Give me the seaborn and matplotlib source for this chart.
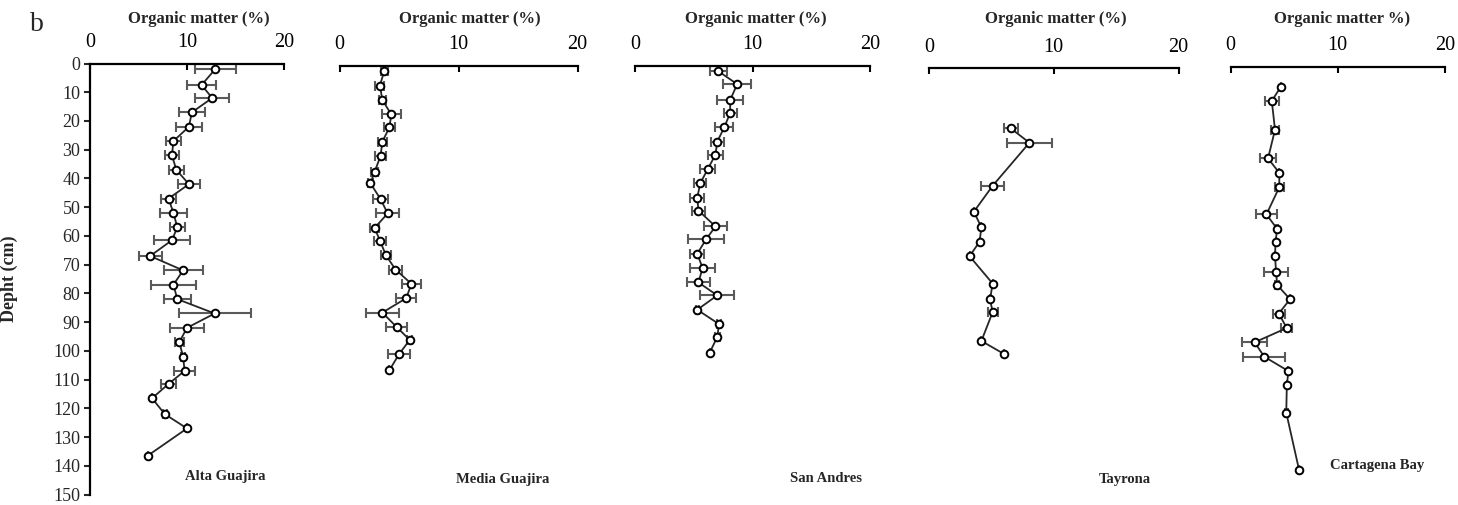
import numpy as np
import pandas as pd
import matplotlib
matplotlib.use("Agg")
import matplotlib.pyplot as plt
import seaborn as sns

# Alta Guajira
depth_ag = [2, 7.5, 12, 17, 22, 27, 32, 37, 42, 47, 52, 57, 61.5, 67, 72, 77, 82, 87, 92, 97, 102, 107, 111.5, 116.5, 122, 127, 136.5]
om_ag = [12.9, 11.5, 12.6, 10.5, 10.2, 8.6, 8.45, 8.9, 10.2, 8.1, 8.6, 9.0, 8.45, 6.2, 9.6, 8.6, 9.0, 12.85, 10.0, 9.2, 9.6, 9.75, 8.1, 6.4, 7.7, 10.0, 5.95]
err_ag = [2.1, 1.5, 1.75, 1.35, 1.3, 0.8, 0.75, 0.8, 1.15, 0.75, 1.4, 0.8, 1.85, 1.2, 2.0, 2.3, 1.4, 3.7, 1.8, 0.45, 0.2, 1.1, 0.8, 0, 0.2, 0, 0]

# Media Guajira
depth_mg = [2, 7, 12, 17, 21.5, 26.5, 31.5, 37, 41, 46.5, 51.5, 56.5, 61, 66, 71, 76, 81, 86, 91, 95.5, 100.5, 106]
om_mg = [3.75, 3.4, 3.6, 4.35, 4.2, 3.6, 3.45, 2.95, 2.6, 3.45, 4.05, 2.95, 3.4, 3.9, 4.7, 6.05, 5.6, 3.6, 4.8, 5.9, 5.0, 4.2]
err_mg = [0.3, 0.38, 0.3, 0.8, 0.5, 0.35, 0.45, 0.3, 0.2, 0.6, 0.95, 0.4, 0.5, 0.4, 0.55, 0.8, 0.85, 1.4, 0.9, 0.2, 0.9, 0]

# San Andres
depth_sa = [2, 6.5, 12, 16.5, 21.5, 26.5, 31, 36, 41, 46, 50.5, 56, 60.5, 65.5, 70.5, 75.5, 80, 85, 90, 94.5, 100]
om_sa = [7.1, 8.7, 8.1, 8.1, 7.6, 7.0, 6.85, 6.2, 5.55, 5.3, 5.4, 6.85, 6.05, 5.3, 5.75, 5.4, 7.0, 5.3, 7.15, 7.0, 6.35]
err_sa = [0.7, 1.2, 1.1, 0.55, 0.75, 0.55, 0.65, 0.65, 0.5, 0.6, 0.55, 0.95, 1.5, 0.6, 1.05, 0.95, 1.45, 0.15, 0.15, 0.2, 0]

# Tayrona
depth_ty = [21, 26, 41, 50, 55.5, 60.5, 65.5, 75, 80.5, 85, 95, 99.5]
om_ty = [6.55, 8.05, 5.1, 3.6, 4.2, 4.05, 3.25, 5.1, 4.9, 5.1, 4.2, 6.0]
err_ty = [0.55, 1.8, 0.95, 0, 0, 0, 0, 0, 0, 0.4, 0, 0]

# Cartagena Bay
depth_cb = [7, 12, 22, 32, 37, 42, 51.5, 56.5, 61, 66, 71.5, 76, 81, 86, 91, 96, 101, 106, 111, 120.5, 140.5]
om_cb = [4.7, 3.85, 4.15, 3.5, 4.55, 4.55, 3.35, 4.35, 4.2, 4.15, 4.25, 4.35, 5.55, 4.5, 5.25, 2.25, 3.15, 5.4, 5.25, 5.2, 6.4]
err_cb = [0, 0.65, 0.4, 0.75, 0, 0.4, 1.0, 0.1, 0, 0, 1.1, 0.2, 0, 0.55, 0.5, 1.15, 1.95, 0, 0, 0.15, 0]

sites = ["Alta Guajira", "Media Guajira", "San Andres", "Tayrona", "Cartagena Bay"]
titles = ["Organic matter (%)"] * 4 + ["Organic matter %)"]
depths = [depth_ag, depth_mg, depth_sa, depth_ty, depth_cb]
oms = [om_ag, om_mg, om_sa, om_ty, om_cb]
errs = [err_ag, err_mg, err_sa, err_ty, err_cb]

sns.set_style("white")
plt.rcParams["font.family"] = ["Liberation Serif", "DejaVu Serif"]

W, H = 1458, 505
fig = plt.figure(figsize=(W / 100, H / 100), dpi=100)

# panel geometry in pixels: left, right, top ; title centre x ; site label centre (x, y)
boxes = [(90, 284, 63.5), (339.5, 577.5, 65.5), (635, 870, 65.5), (929, 1178.5, 68), (1230.5, 1445, 66.5)]
title_x = [198.5, 470, 755.5, 1056, 1342]
label_xy = [(225, 476.5), (502.5, 480), (826, 478), (1125, 480), (1377, 465.5)]
ph = 431

for i in range(5):
    l, r, t = boxes[i]
    ax = fig.add_axes([l / W, 1 - (t + ph) / H, (r - l) / W, ph / H])
    df = pd.DataFrame({"om": oms[i], "depth": depths[i], "err": errs[i]})
    ax.errorbar(df["om"], df["depth"], xerr=df["err"], fmt="none", ecolor="#5a5a5a",
                elinewidth=1.5, capsize=3.5, capthick=1.5, zorder=2)
    sns.lineplot(data=df, x="om", y="depth", sort=False, estimator=None, orient="y",
                 color="#262626", linewidth=1.3, marker="o", markersize=5.5,
                 markerfacecolor="white", markeredgecolor="black", markeredgewidth=1.4,
                 ax=ax, zorder=3)
    ax.set_xlim(0, 20)
    ax.set_ylim(150, 0)
    ax.set_xticks([0, 10, 20])
    ax.xaxis.tick_top()
    ax.xaxis.set_label_position("top")
    ax.tick_params(axis="x", direction="in", length=4, width=1.5, pad=8, labelsize=14.5, colors="black")
    ax.set_xlabel(titles[i], fontsize=12, fontweight="bold")
    ax.xaxis.set_label_coords((title_x[i] - l) / (r - l), 1 + (t - 19) / ph)
    ax.xaxis.label.set_verticalalignment("center")
    for s in ["bottom", "right"]:
        ax.spines[s].set_visible(False)
    ax.spines["top"].set_linewidth(1.6)
    ax.spines["top"].set_color("black")
    if i == 0:
        ax.set_yticks(np.arange(0, 151, 10))
        ax.tick_params(axis="y", direction="out", length=4, width=1.5, pad=3, labelsize=13, left=True)
        ax.spines["left"].set_linewidth(1.6)
        ax.spines["left"].set_color("black")
        ax.set_ylabel("Depht (cm)", fontsize=13, fontweight="bold")
        ax.yaxis.set_label_coords((18 - l) / (r - l), 0.5)
    else:
        ax.spines["left"].set_visible(False)
        ax.set_yticks([])
        ax.set_ylabel("")
    lx, ly = label_xy[i]
    fig.text(lx / W, 1 - ly / H, sites[i], ha="center", va="center", fontsize=10.5, fontweight="bold")

fig.text(30 / W, 1 - 31 / H, "b", ha="left", va="baseline", fontsize=20)

fig.savefig("out.png", dpi=100)
